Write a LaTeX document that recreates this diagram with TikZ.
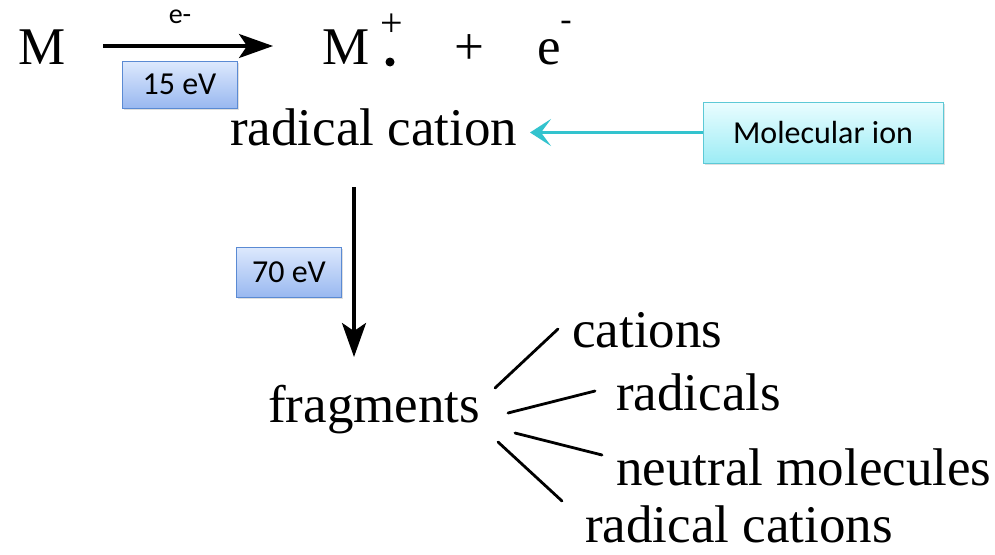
\documentclass[tikz,border=0pt]{standalone}
\usepackage{fontspec}
\setmainfont{Liberation Serif}
\newfontfamily\boxfont{Carlito}
\usetikzlibrary{arrows.meta,shadows}
\definecolor{bluetop}{HTML}{DDE9FD}
\definecolor{bluebot}{HTML}{99B8F0}
\definecolor{blueedge}{HTML}{5A8AD3}
\definecolor{cyantop}{HTML}{EAFDFF}
\definecolor{cyanbot}{HTML}{9CECF5}
\definecolor{cyanedge}{HTML}{5CC9D6}
\definecolor{cyanarrow}{HTML}{33C3CE}
\begin{document}
\begin{tikzpicture}[x=1pt,y=-1pt,
  big/.style={inner sep=0pt,anchor=base west,font=\fontsize{53}{60}\selectfont},
  bluebox/.style={draw=blueedge,line width=1pt,top color=bluetop,bottom color=bluebot,
    inner sep=0pt,font=\boxfont\fontsize{32}{36}\selectfont,
    drop shadow={opacity=0.25,shadow xshift=1.5pt,shadow yshift=-2pt}},
  cyanbox/.style={draw=cyanedge,line width=1pt,top color=cyantop,bottom color=cyanbot,
    inner sep=0pt,font=\boxfont\fontsize{32}{36}\selectfont,
    drop shadow={opacity=0.25,shadow xshift=1.5pt,shadow yshift=-2pt}},
  reaction/.style={line width=3.2pt,-{Stealth[length=34pt,width=24pt,inset=8pt]}},
  branch/.style={line width=2.8pt,line cap=round}]
\useasboundingbox (0,0) rectangle (995,554);
\fill[white] (0,0) rectangle (995,554);

% top equation
\node[big] (M1) at (18,64) {M};
\node[big] (M2) at (322,64) {M};
\fill (390,62) circle (4.5pt);
\node[inner sep=0pt,font=\fontsize{40}{44}\selectfont] (Mplus) at (392,25) {+};
\node[big,anchor=base] (plus) at (469,64) {+};
\node[big] (e) at (537,64) {e};
\node[inner sep=0pt,font=\fontsize{34}{40}\selectfont] (eminus) at (566,26) {-};

\coordinate (a1s) at (103,46);
\coordinate (a1e) at (273,46);
\draw[reaction] (a1s) -- (a1e);
\node[inner sep=0pt,font=\boxfont\fontsize{28}{32}\selectfont] (elab) at (180,17) {e-};
\node[bluebox,minimum width=115pt,minimum height=47pt] (b15) at (179.5,84.5) {15 eV};

% radical cation
\node[big] (rc) at (230,145) {radical cation};
\node[cyanbox,minimum width=240pt,minimum height=61pt] (mol) at (823,132.5) {Molecular ion};
\coordinate (cy) at (530,132.5);
\draw[line width=3.5pt,draw=cyanarrow,-{Stealth[length=21pt,width=27pt,inset=10pt]}] (mol.west) -- (cy);

% vertical arrow
\coordinate (v1) at (354,187);
\coordinate (v2) at (354,357);
\draw[reaction] (v1) -- (v2);
\node[bluebox,minimum width=105pt,minimum height=50pt] (b70) at (289,272) {70 eV};

% fragments
\node[big] (frag) at (268,422) {fragments};
\node[big] (cat) at (572,347) {cations};
\node[big] (rad) at (616,410) {radicals};
\node[big] (neu) at (616,485) {neutral molecules};
\node[big] (rcat) at (585,542) {radical cations};

\coordinate (l1a) at (495,388); \coordinate (l1b) at (558,329);
\coordinate (l2a) at (508,413); \coordinate (l2b) at (595,391);
\coordinate (l3a) at (515,433); \coordinate (l3b) at (602,455);
\coordinate (l4a) at (498,442); \coordinate (l4b) at (562,501);
\draw[branch] (l1a) -- (l1b);
\draw[branch] (l2a) -- (l2b);
\draw[branch] (l3a) -- (l3b);
\draw[branch] (l4a) -- (l4b);
\end{tikzpicture}
\end{document}
